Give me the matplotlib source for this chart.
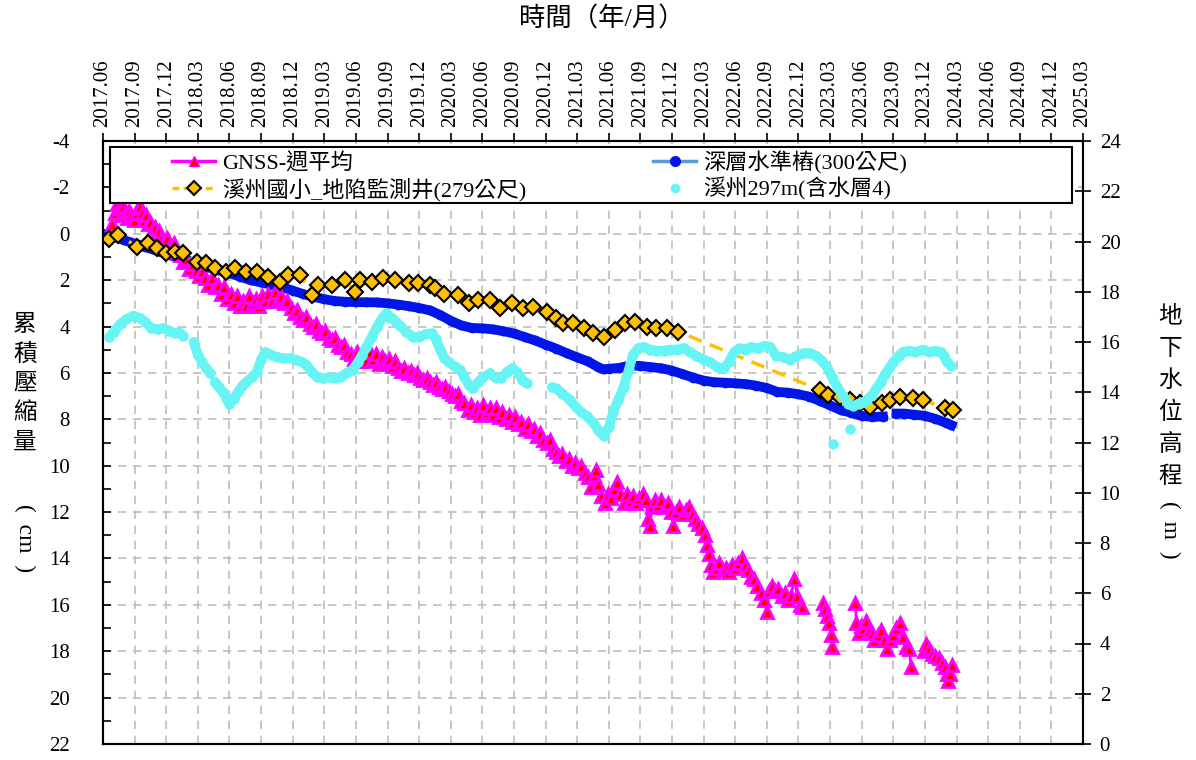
import numpy as np
import matplotlib.pyplot as plt
from matplotlib.lines import Line2D
from matplotlib.patches import Rectangle

plt.rcParams['font.family'] = ['Liberation Serif', 'Noto Sans CJK TC']
plt.rcParams['axes.unicode_minus'] = False

# =========================================================
# DATA  (x = months since 2017.06)
# =========================================================

quarter_labels = [
    '2017.06', '2017.09', '2017.12', '2018.03', '2018.06', '2018.09', '2018.12',
    '2019.03', '2019.06', '2019.09', '2019.12', '2020.03', '2020.06', '2020.09',
    '2020.12', '2021.03', '2021.06', '2021.09', '2021.12', '2022.03', '2022.06',
    '2022.09', '2022.12', '2023.03', '2023.06', '2023.09', '2023.12', '2024.03',
    '2024.06', '2024.09', '2024.12', '2025.03',
]
quarter_pos = list(range(0, 94, 3))

# GNSS weekly average (cm, left axis)
gnss_x = [
    0.9, 1.1, 1.3, 1.5, 1.7, 1.9, 2.1, 2.3, 2.5, 2.7, 2.9, 3.1, 3.3, 3.5, 3.7, 3.9, 4.1,
    4.3, 4.5, 4.7, 4.9, 5.1, 5.3, 5.5,
    5.8, 6.1, 6.4, 6.7, 7.0, 7.3, 7.6, 7.9, 8.2, 8.5, 8.8, 9.1, 9.4, 9.7, 10.0, 10.3,
    10.6, 10.9, 11.2, 11.5, 11.8, 12.1, 12.4, 12.7, 13.0, 13.3,
    13.6, 13.9, 14.2, 14.5, 14.8, 15.1, 15.4, 15.7, 16.0, 16.3, 16.6, 16.9, 17.2, 17.5,
    17.8, 18.1, 18.4, 18.7, 19.0, 19.3, 19.6, 19.9, 20.2, 20.5, 20.8, 21.1, 21.4, 21.7,
    22.0, 22.3, 22.6, 22.9, 23.2, 23.5, 23.8, 24.1, 24.4,
    24.7, 25.0, 25.3, 25.6, 25.9, 26.2, 26.5, 26.8, 27.1, 27.4, 27.7, 28.0,
    28.3, 28.6, 28.9, 29.2, 29.5, 29.8, 30.1, 30.4, 30.7, 31.0, 31.3, 31.6, 31.9, 32.2,
    32.5, 32.8, 33.1, 33.4, 33.7, 34.0, 34.3, 34.6, 34.9, 35.2, 35.5,
    35.8, 36.1, 36.4, 36.7, 37.0, 37.3, 37.6, 37.9, 38.2, 38.5, 38.8, 39.1, 39.4, 39.7,
    40.0, 40.3, 40.6, 40.9, 41.2, 41.5, 41.8, 42.1, 42.4, 42.7, 43.0, 43.3, 43.6, 43.9,
    44.2, 44.5, 44.8, 45.1, 45.4, 45.7, 46.0, 46.3, 46.6, 46.8, 47.0, 47.3, 47.6, 47.9,
    48.2, 48.5, 48.8, 49.1, 49.4, 49.7, 50.0, 50.3, 50.6, 50.9, 51.2, 51.5, 51.7, 51.9,
    52.1, 52.4, 52.7, 53.0, 53.3, 53.6, 53.9, 54.1, 54.4, 54.7, 55.0, 55.3, 55.6, 55.9,
    56.2, 56.5, 56.8, 57.1, 57.3, 57.5, 57.7, 57.9, 58.2, 58.5, 58.8, 59.1, 59.4, 59.7,
    60.0, 60.3, 60.6, 60.9, 61.2, 61.5, 61.8, 62.1, 62.4, 62.7, 63.0, 63.2, 63.5, 63.8,
    64.1, 64.4, 64.7, 65.0, 65.3, 65.6, 65.9, 66.1, 66.3,
    67.2,
    68.3, 68.5, 68.7, 68.9, 69.1, 69.2,
    70.2,
    71.4, 71.5, 71.7, 71.9, 72.1, 72.4, 72.7, 73.0, 73.2, 73.5, 73.8, 74.1, 74.4, 74.7,
    75.0, 75.3, 75.6, 75.9, 76.2, 76.5, 76.7,
    77.3,
    77.9, 78.1, 78.4, 78.7, 79.0, 79.3, 79.6, 79.9, 80.1, 80.2, 80.4, 80.6,
]
gnss_y = [
    -0.4, -0.9, -1.3, -1.1, -0.8, -1.2, -0.9, -0.7, -1.0, -0.8, -0.6, -0.9, -1.1, -1.2,
    -0.9, -0.6, -0.8, -0.4, -0.5, -0.2, -0.3, 0.0, -0.1, 0.2,
    0.3, 0.2, 0.5, 0.4, 0.8, 0.9, 1.2, 1.1, 1.5, 1.3, 1.6, 1.8, 1.6, 1.9, 2.2, 1.9,
    2.3, 2.2, 2.6, 2.3, 2.8, 2.6, 3.0, 2.7, 3.1, 2.9,
    3.1, 2.7, 3.0, 2.8, 3.1, 2.7, 2.9, 2.6, 2.9, 2.5, 2.8, 2.7, 3.0, 2.9,
    3.2, 3.4, 3.3, 3.6, 3.7, 3.6, 3.9, 4.0, 3.9, 4.2, 4.3, 4.2, 4.5, 4.6,
    4.5, 4.8, 4.9, 4.8, 5.1, 5.2, 5.4, 5.1, 5.5,
    5.2, 5.5, 5.1, 5.4, 5.2, 5.6, 5.3, 5.5, 5.4, 5.7, 5.5, 5.8,
    5.9, 5.8, 6.0, 5.9, 6.1, 6.0, 6.2, 6.3, 6.2, 6.4, 6.5, 6.4, 6.6, 6.7,
    6.6, 6.8, 6.9, 7.0, 6.9, 7.2, 7.3, 7.6, 7.4, 7.7, 7.5,
    7.8, 7.4, 7.7, 7.5, 7.8, 7.5, 7.9, 7.7, 8.0, 7.8, 8.1, 7.9, 8.2, 8.1,
    8.4, 8.2, 8.5, 8.4, 8.7, 8.6, 8.9, 9.0, 8.9, 9.3, 9.4, 9.6, 9.5, 9.8,
    9.7, 10.0, 9.9, 10.1, 10.0, 10.3, 10.5, 10.9, 10.4, 10.2, 10.8, 11.3, 11.6, 11.2,
    11.4, 11.0, 10.7, 11.2, 11.6, 11.2, 11.5, 11.3, 11.6, 11.4, 11.2, 11.5, 12.3, 12.6,
    11.8, 11.5, 11.7, 11.5, 11.8, 11.6, 12.0, 12.6, 12.0, 11.8, 12.1, 11.9, 11.8, 12.1,
    12.3, 12.5, 12.7, 13.0, 13.4, 13.8, 14.3, 14.6, 14.4, 14.2, 14.5, 14.4, 14.6, 14.3,
    14.4, 14.2, 14.0, 14.3, 14.5, 14.8, 14.9, 15.2, 15.5, 15.8, 16.3, 15.4, 15.2, 15.4,
    15.3, 15.6, 15.5, 15.8, 15.6, 14.9, 15.6, 16.0, 16.1,
    np.nan,
    15.9, 16.2, 16.5, 16.8, 17.3, 17.8,
    np.nan,
    15.9, 16.8, 17.2, 16.9, 17.0, 16.7, 17.1, 17.2, 17.5, 17.3, 17.1, 17.5, 17.9, 17.5,
    17.3, 17.0, 16.8, 17.4, 17.8, 17.9, 18.7,
    np.nan,
    18.0, 17.7, 17.9, 18.1, 18.2, 18.3, 18.5, 18.7, 19.0, 19.3, 19.0, 18.6,
]

# deep benchmark 300 m (cm, left axis)
bench_x = [0, 1, 2, 3, 4, 5, 6, 7, 8, 9, 10, 11, 12, 13, 14, 15, 16, 17, 18, 19, 20, 21,
           22, 23, 24, 25, 26, 27, 28, 29, 30, 31, 32, 33, 34, 35, 36, 37, 38, 39, 40, 41,
           42, 43, 44, 45, 46, 47, 47.5, 48, 49, 50, 51, 52, 53, 54, 55, 56, 57, 58, 59,
           60, 61, 62, 63, 64, 65, 66, 67, 68, 69, 70, 71, 72, 73, 74, 74.7, 75.3, 76, 77,
           78, 79, 80, 80.5]
bench_y = [0.0, 0.12, 0.28, 0.42, 0.57, 0.72, 0.88, 1.02, 1.15, 1.3, 1.45, 1.58, 1.7,
           1.85, 2.0, 2.1, 2.2, 2.3, 2.45, 2.6, 2.72, 2.82, 2.9, 2.93, 2.95, 2.95, 2.96,
           3.0, 3.05, 3.12, 3.2, 3.3, 3.5, 3.75, 3.95, 4.06, 4.08, 4.12, 4.2, 4.3, 4.45,
           4.6, 4.78, 4.95, 5.15, 5.33, 5.5, 5.75, 5.85, 5.82, 5.78, 5.68, 5.7, 5.75, 5.8,
           5.9, 6.05, 6.2, 6.33, 6.4, 6.42, 6.45, 6.48, 6.55, 6.65, 6.82, 6.85, 6.92, 7.02,
           7.2, 7.4, 7.6, 7.72, 7.85, 7.9, 7.88, np.nan, 7.75, 7.75, 7.8, 7.85, 7.98, 8.15,
           8.25]

# Xizhou elementary school compaction well 279 m (cm, left axis)
well_x = [0.6, 1.45, 3.2, 4.3, 5.1, 6.0, 6.8, 7.6, 8.9, 9.8, 10.6, 11.7, 12.5, 13.6, 14.6,
          15.7, 16.8, 17.6, 18.7, 19.8, 20.4, 21.7, 23.0, 23.9, 24.4, 25.5, 26.6, 27.7,
          29.0, 29.9, 31.0, 31.5, 32.4, 33.7, 34.7, 35.6, 36.7, 37.7, 38.8, 39.9, 40.8,
          42.1, 43.0, 43.7, 44.6, 45.6, 46.5, 47.5, 48.6, 49.5, 50.5, 51.6, 52.5, 53.5,
          54.6, 68.0, 68.8, 69.9, 70.9, 71.8, 72.8, 73.9, 74.7, 75.6, 76.9, 77.8, 79.9, 80.7]
well_y = [0.24, 0.05, 0.55, 0.41, 0.63, 0.84, 0.77, 0.84, 1.2, 1.27, 1.49, 1.63, 1.49, 1.63,
          1.63, 1.85, 2.06, 1.78, 1.78, 2.64, 2.2, 2.2, 1.99, 2.5, 1.99, 2.06, 1.92, 1.99,
          2.13, 2.13, 2.2, 2.35, 2.6, 2.64, 3.0, 2.85, 2.85, 3.21, 3.0, 3.21, 3.14, 3.36,
          3.64, 3.86, 3.86, 4.07, 4.29, 4.43, 4.15, 3.86, 3.79, 4.0, 4.07, 4.07, 4.22, 6.73,
          6.95, 7.02, 7.16, 7.31, 7.45, 7.31, 7.16, 7.02, 7.09, 7.16, 7.52, 7.6]

# Xizhou 297 m aquifer 4 groundwater level (m, right axis)
gw_x = [0.6, 1.0, 1.6, 2.2, 2.9, 3.5, 4.0, 4.6, 5.2, 5.7, 6.3, 6.8, 7.2, 7.6, 8.1, 8.6, 9.0,
        9.4, 9.8, 10.2, 10.4, 10.6, 11.0, 11.4, 11.8, 12.0, 12.4, 12.8, 13.2, 13.6, 14.1,
        14.6, 15.0, 15.4, 15.9, 16.5, 17.1, 17.7, 18.3, 18.9, 19.3, 19.8, 20.3, 20.9, 21.5,
        22.0, 22.5, 23.1, 23.7, 24.2, 24.6, 25.0, 25.5, 26.0, 26.5, 26.9, 27.4, 27.8, 28.2,
        28.8, 29.4, 30.0, 30.6, 31.2, 31.6, 32.0, 32.4, 32.8, 33.3, 33.9, 34.3, 34.7, 35.1,
        35.6, 36.1, 36.7, 37.3, 37.8, 38.3, 38.8, 39.3, 39.8, 40.2, 41.4, 42.6, 43.0, 43.6,
        44.3, 44.9, 45.4, 45.9, 46.5, 47.0, 47.5, 48.0, 48.4, 48.9, 49.4, 49.9, 50.3, 50.8,
        51.3, 51.9, 52.5, 53.2, 53.8, 54.5, 55.1, 55.7, 56.3, 57.0, 57.6, 58.3, 58.9, 59.4,
        59.9, 60.4, 60.9, 61.5, 62.2, 62.8, 63.3, 63.9, 64.5, 65.2, 65.8, 66.5, 67.1, 67.7,
        68.2, 68.7, 69.2, 69.7, 70.2, 70.7, 71.2, 71.7, 72.1, 72.5, 73.0, 73.4, 73.8, 74.2,
        74.6, 75.0, 75.5, 75.9, 76.5, 77.1, 77.8, 78.4, 79.0, 79.5, 79.8, 80.1, 80.5]
gw_y = [16.2, 16.4, 16.7, 16.9, 17.05, 16.95, 16.8, 16.55, 16.5, 16.55, 16.45, 16.35, 16.4,
        16.25, np.nan, 16.0, 15.5, 15.2, 14.95, 14.75, np.nan, 14.4, 14.2, 14.0, 13.7,
        13.55, 13.75, 14.0, 14.25, 14.4, 14.6, 14.8, 15.3, 15.6, 15.5, 15.4, 15.35, 15.35,
        15.3, 15.2, 15.1, 14.8, 14.6, 14.55, 14.6, 14.55, 14.6, 14.75, 14.9, 15.2, 15.5,
        15.8, 16.2, 16.6, 16.95, 17.15, 16.95, 16.8, 16.65, 16.4, 16.2, 16.2, 16.3, 16.35,
        16.1, 15.7, 15.35, 15.2, 15.05, 14.9, 14.6, 14.3, 14.15, 14.4, 14.6, 14.75, 14.55,
        14.55, 14.8, 14.95, 14.8, 14.5, 14.35, np.nan, 14.2, 14.15, 13.95, 13.7, 13.4, 13.2,
        13.05, 12.8, 12.5, 12.25, 12.6, 13.2, 13.7, 14.2, 14.9, 15.5, 15.75, 15.8, 15.7,
        15.65, 15.65, 15.7, 15.7, 15.75, 15.6, 15.45, 15.3, 15.2, 15.0, 14.95, 15.2, 15.6,
        15.75, 15.7, 15.8, 15.75, 15.85, 15.8, 15.45, 15.4, 15.3, 15.45, 15.55, 15.55,
        15.45, 15.25, 15.0, 14.6, 14.2, 13.85, 13.55, 13.45, 13.55, 13.6, 13.7, 13.9, 14.15,
        14.4, 14.7, 14.95, 15.2, 15.45, 15.6, 15.65, 15.6, 15.7, 15.6, 15.65, 15.6, 15.45,
        15.2, 15.05]

# isolated readings of the same well
gw_pts_x = [69.3, 70.9]
gw_pts_y = [11.94, 12.53]

labels = ['GNSS-週平均', '溪州國小_地陷監測井(279公尺)', '深層水準樁(300公尺)', '溪州297m(含水層4)']

# =========================================================
# PLOT
# =========================================================

MAGENTA = '#FF00FF'
BLUE = '#0015E8'
GOLD = '#FFC000'
CYAN = '#66F4F4'

fig = plt.figure(figsize=(11.96, 7.6), dpi=100)
ax = fig.add_axes([103 / 1196, 16 / 760, 980 / 1196, 603 / 760])

ax.set_xlim(0, 93)
ax.set_ylim(22, -4)

ax.grid(True, color='#BDBDBD', linestyle=(0, (5, 4)), linewidth=1.2)
ax.set_axisbelow(True)

ax.plot(bench_x, bench_y, color=BLUE, lw=7, marker='o', ms=6, mec=BLUE, mfc=BLUE, zorder=3)
ax.plot(gnss_x, gnss_y, color=MAGENTA, lw=2, marker='^', ms=8, mfc='red', mec=MAGENTA,
        mew=2, zorder=4)
ax.plot(well_x, well_y, color=GOLD, lw=2.5, linestyle=(0, (4, 2.5)), marker='D', ms=8,
        mfc=GOLD, mec='black', mew=1.5, zorder=5)

ax.xaxis.tick_top()
ax.set_xticks(quarter_pos)
ax.set_xticklabels(quarter_labels, rotation=90, fontsize=15)
ax.tick_params(axis='x', direction='out', length=6, width=1.2, pad=4)

ax.set_yticks(range(-4, 23, 2))
ax.set_yticks(range(-3, 22, 2), minor=True)
ax.tick_params(axis='y', which='both', direction='in', length=6, width=1.2, labelsize=15, pad=24)

for s in ax.spines.values():
    s.set_linewidth(1.5)

ax2 = ax.twinx()
ax2.set_ylim(0, 24)
ax2.set_yticks(range(0, 25, 2))
ax2.tick_params(axis='y', direction='inout', length=12, width=1.2, labelsize=15, pad=6)
for s in ax2.spines.values():
    s.set_linewidth(1.5)

ax2.plot(gw_x, gw_y, color=CYAN, lw=7, marker='o', ms=6.5, mec=CYAN, mfc=CYAN,
         solid_capstyle='round', zorder=3)
ax2.plot(gw_pts_x, gw_pts_y, linestyle='none', marker='o', ms=6.5, mec=CYAN, mfc=CYAN, zorder=3)

# legend
frame = Rectangle((7 / 980, (744 - 203) / 603), 962 / 980, 56 / 603, transform=ax2.transAxes,
                  facecolor='white', edgecolor='black', lw=1.5, zorder=8)
ax2.add_patch(frame)

handles = [
    Line2D([], [], color=MAGENTA, lw=2.5, marker='^', ms=7, mfc='red', mec=MAGENTA),
    Line2D([], [], color=GOLD, lw=2.5, linestyle=(0, (2, 1.2)), marker='D', ms=7, mfc=GOLD,
           mec='black', mew=1.5),
    Line2D([], [], color='#5B9BD5', lw=2.5, marker='o', ms=7, mfc=BLUE, mec=BLUE),
    Line2D([], [], linestyle='none', marker='o', ms=6, mfc=CYAN, mec=CYAN),
]
leg = ax2.legend(handles, labels, ncol=2, loc='upper left',
                 bbox_to_anchor=(69 / 980, (744 - 151) / 603), frameon=False, fontsize=16,
                 handlelength=1.95, handletextpad=0.3, columnspacing=5.7, labelspacing=0.15,
                 borderpad=0, borderaxespad=0)
leg.set_zorder(9)

# axis titles
fig.text(602 / 1196, 1 - 19 / 760, '時間（年/月）', fontsize=19, ha='center', va='center')

for i, ch in enumerate('累積壓縮量'):
    fig.text(25 / 1196, 1 - (325 + 29.5 * i) / 760, ch, fontsize=17, ha='center', va='center')
fig.text(25 / 1196, 1 - 538 / 760, '(  cm  )', fontsize=17, rotation=-90,
         family='Liberation Serif', ha='center', va='center')

for i, ch in enumerate('地下水位高程'):
    fig.text(1170 / 1196, 1 - (317 + 32 * i) / 760, ch, fontsize=17, ha='center', va='center')
fig.text(1170 / 1196, 1 - 530 / 760, '(  m  )', fontsize=17, rotation=-90,
         family='Liberation Serif', ha='center', va='center')

fig.savefig('out.png', dpi=100)
